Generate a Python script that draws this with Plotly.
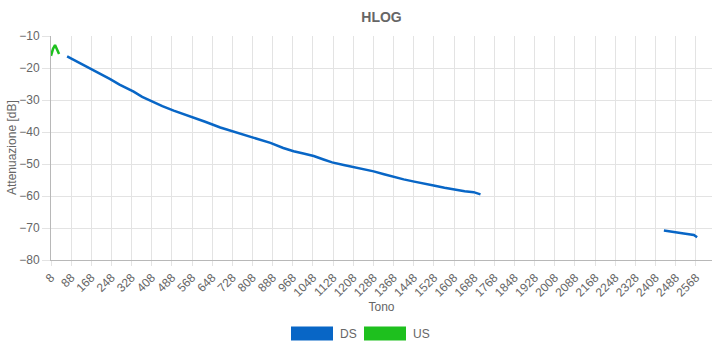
import plotly.graph_objects as go

# Downstream HLOG (tone index -> attenuation dB); None marks the unused band
ds_tones = [72, 120, 171, 200, 243, 280, 336, 370, 402, 450, 495, 540, 574, 620,
            680, 730, 773, 820, 879, 930, 971, 1010, 1051, 1090, 1124, 1170, 1210,
            1250, 1289, 1330, 1369, 1408, 1450, 1490, 1527, 1570, 1606, 1650, 1686,
            1713, 2000, 2441, 2470, 2494, 2520, 2547, 2560, 2573]
ds_db = [-16.4, -18.4, -20.5, -21.6, -23.5, -25.2, -27.4, -29.0, -30.2, -31.9,
         -33.3, -34.5, -35.5, -36.8, -38.6, -39.8, -40.9, -42.0, -43.4, -45.0,
         -46.0, -46.7, -47.5, -48.6, -49.5, -50.3, -50.9, -51.6, -52.3, -53.2,
         -54.1, -54.8, -55.5, -56.0, -56.7, -57.4, -58.0, -58.5, -58.8, -59.5,
         None, -70.8, -71.2, -71.3, -71.7, -72.0, -72.2, -72.9]

# Upstream HLOG
us_tones = [8, 16, 24, 32, 40]
us_db = [-16.2, -14.0, -12.8, -14.3, -15.6]

x_ticks = list(range(8, 2569, 80))
y_ticks = [-10, -20, -30, -40, -50, -60, -70, -80]

DS_COLOR = "#0866c6"
US_COLOR = "#1ec01e"
GRID = "#e3e3e3"
TXT = "#666666"
FONT = "Liberation Sans, Arial, sans-serif"

fig = go.Figure()
fig.add_trace(go.Scatter(x=ds_tones, y=ds_db, mode="lines", name="DS",
                         line=dict(color=DS_COLOR, width=2.5), connectgaps=False,
                         showlegend=False))
fig.add_trace(go.Scatter(x=us_tones, y=us_db, mode="lines", name="US",
                         line=dict(color=US_COLOR, width=2.5), showlegend=False))

L, R, T, B = 51, 8, 36, 90
W, H = 720, 350
pw, ph = W - L - R, H - T - B


def px_x(p):
    return (p - L) / pw


def px_y(p):
    return (H - B - p) / ph


# Legend boxes and labels
legend_items = [("DS", DS_COLOR, 291, 333), ("US", US_COLOR, 364, 406)]
for name, col, x0, x1 in legend_items:
    fig.add_shape(type="rect", xref="paper", yref="paper",
                  x0=px_x(x0), x1=px_x(x1), y0=px_y(340.5), y1=px_y(326.5),
                  fillcolor=col, line=dict(width=0))
    fig.add_annotation(xref="paper", yref="paper", x=px_x(x1 + 5), y=px_y(333.5),
                       text=name, showarrow=False, xanchor="left", yanchor="middle",
                       font=dict(family=FONT, size=12, color=TXT))

# Y-axis caption
fig.add_annotation(xref="paper", yref="paper", x=px_x(12), y=0.5,
                   text="Attenuazione [dB]", textangle=-90, showarrow=False,
                   xanchor="center", yanchor="middle",
                   font=dict(family=FONT, size=12, color=TXT))

fig.update_layout(
    width=W, height=H,
    margin=dict(l=L, r=R, t=T, b=B),
    paper_bgcolor="white", plot_bgcolor="white",
    title=dict(text="<b>HLOG</b>", x=0.5 * (L + W - R) / W, xanchor="center",
               y=1 - 17 / H, yanchor="middle",
               font=dict(family=FONT, size=14, color=TXT)),
    font=dict(family=FONT, size=12, color=TXT),
)
fig.update_xaxes(range=[8, 2632], tickvals=x_ticks, tickangle=-45,
                 showgrid=True, gridcolor=GRID, gridwidth=1,
                 ticks="outside", ticklen=5, tickcolor=GRID,
                 showline=True, linecolor="#b8b8b8", linewidth=1,
                 zeroline=False,
                 title=dict(text="Tono", standoff=2,
                            font=dict(family=FONT, size=12, color=TXT)),
                 tickfont=dict(family=FONT, size=12, color=TXT))
fig.update_yaxes(range=[-80, -10], tickvals=y_ticks,
                 showgrid=True, gridcolor=GRID, gridwidth=1,
                 ticks="outside", ticklen=8, tickcolor=GRID,
                 showline=True, linecolor="#b8b8b8", linewidth=1,
                 zeroline=False,
                 tickfont=dict(family=FONT, size=12, color=TXT))

fig.write_html("out.html")
